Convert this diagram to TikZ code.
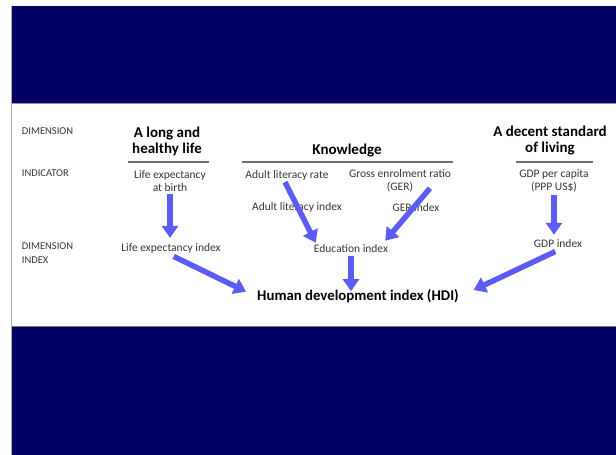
\documentclass[tikz,border=0pt]{standalone}
\usepackage{fontspec}
\setmainfont{Carlito}
\usepackage{tikz}
\usetikzlibrary{arrows.meta,calc}
\definecolor{navyband}{RGB}{2,0,100}
\definecolor{arrowblue}{RGB}{92,92,245}
\definecolor{labelgrey}{RGB}{55,55,55}
\definecolor{rulegrey}{RGB}{110,110,110}
\tikzset{
  rowlabel/.style={anchor=north west,inner sep=0.75pt,align=left,text=labelgrey,font=\fontsize{10.5}{14}\selectfont},
  itemlabel/.style={inner sep=2pt,align=center,text=labelgrey,font=\fontsize{11.5}{12.5}\selectfont},
  headlabel/.style={inner sep=2pt,align=center,font=\bfseries\fontsize{15}{16}\selectfont},
  hdiarrow/.style={draw=arrowblue,line width=5.5pt,-{Triangle[width=16pt,length=12pt]}},
  headrule/.style={draw=rulegrey,line width=1.4pt}
}
\begin{document}
\begin{tikzpicture}[x=1pt,y=1pt,yscale=-1,xscale=1]
        \useasboundingbox (0,0) rectangle (616,455);
        \fill [white] (0,0) rectangle (616,455);
        %Shape: Rectangle (bands)
        \fill [navyband] (12,6) rectangle (616,103);
        \fill [white] (12,103) rectangle (616,327);
        \fill [navyband] (12,327) rectangle (616,455);
        \draw [color={rgb,255:red,150;green,150;blue,170},line width=1pt] (12,103.5) -- (616,103.5);
        \draw [color={rgb,255:red,120;green,120;blue,120},line width=1pt] (12,326.5) -- (616,326.5);
        \draw [color={rgb,255:red,170;green,170;blue,170},line width=1pt] (11.5,6) -- (11.5,455);

        % Text Node
        \draw (21,127) node [rowlabel] (rowdim) {DIMENSION};
        % Text Node
        \draw (21,169) node [rowlabel] (rowind) {INDICATOR};
        % Text Node
        \draw (21,242) node [rowlabel] (rowdimind) {DIMENSION\\INDEX};

        % Text Node
        \draw (167,141) node [headlabel] (health) {A long and\\healthy life};
        % Text Node
        \draw (347,151) node [headlabel] (know) {Knowledge};
        % Text Node
        \draw (550,141) node [headlabel] (living) {A decent standard\\of living};
        %Straight Lines
        \draw [headrule] (128,162) -- (209,162);
        \draw [headrule] (242,162) -- (453,162);
        \draw [headrule] (516,162) -- (593,162);

        % Text Node
        \draw (170,181) node [itemlabel] (lifeexp) {Life expectancy\\at birth};
        % Text Node
        \draw (287,175) node [itemlabel] (alrate) {Adult literacy rate};
        % Text Node
        \draw (400,181) node [itemlabel] (ger) {Gross enrolment ratio\\(GER)};
        % Text Node
        \draw (554,181) node [itemlabel] (gdpcap) {GDP per capita\\(PPP US\$)};
        % Text Node
        \draw (297,207) node [itemlabel] (alindex) {Adult literacy index};
        % Text Node
        \draw (416,208) node [itemlabel] (gerindex) {GER index};
        % Text Node
        \draw (171,248) node [itemlabel] (lifeindex) {Life expectancy index};
        % Text Node
        \draw (351,249) node [itemlabel] (eduindex) {Education index};
        % Text Node
        \draw (558,244) node [itemlabel] (gdpindex) {GDP index};
        % Text Node
        \draw (358,296) node [headlabel,font=\bfseries\fontsize{14.8}{16}\selectfont] (hdi) {Human development index (HDI)};

        %Straight Lines
        \draw [hdiarrow,shorten <=1pt,shorten >=3pt] (lifeexp.south) -- (lifeexp.south |- lifeindex.north);
        \draw [hdiarrow,shorten <=3pt,shorten >=10pt] (lifeindex.south) -- (hdi.west);
        \draw [hdiarrow] ($(alrate.south)+(-2,0)$) -- ($(eduindex.north west)+(4,0)$);
        \draw [hdiarrow] ($(ger.south)+(30,-6)$) -- ($(eduindex.north east)+(-5,-2)$);
        \draw [hdiarrow,shorten <=1pt] (eduindex.south) -- ($(eduindex.south |- hdi.north)+(0,4)$);
        \draw [hdiarrow,shorten <=1pt,shorten >=3pt] (gdpcap.south) -- (gdpcap.south |- gdpindex.north);
        \draw [hdiarrow,shorten <=3pt,shorten >=14pt] (gdpindex.south) -- (hdi.east);
\end{tikzpicture}
\end{document}
